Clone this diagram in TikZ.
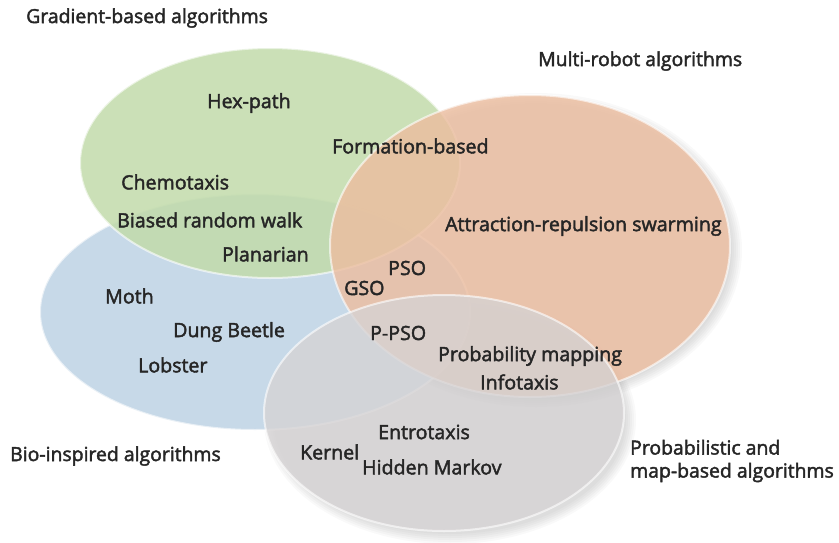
\documentclass[tikz,border=0pt]{standalone}
\usepackage{fontspec}
\setmainfont{Open Sans}[FakeBold=2.2]
\definecolor{blueset}{HTML}{C7D9E8}
\definecolor{greenset}{HTML}{C2DBAA}
\definecolor{orangeset}{HTML}{EDBD9F}
\definecolor{greyset}{HTML}{D6D3D4}
\definecolor{inktext}{HTML}{262626}
\tikzset{
  setshape/.style={draw=white, draw opacity=0.6, line width=2pt},
  item/.style={font=\fontsize{19.6}{23}\selectfont, text=inktext, inner sep=0pt},
  group/.style={font=\fontsize{19.4}{23}\selectfont, text=inktext, inner sep=0pt, align=left},
}
% soft shadow: a stack of faint ellipses growing outward
\newcommand{\softshadow}[4]{%
  \foreach \k in {0,2,...,10}{%
    \fill[black, opacity=0.025] (#1,#2) ellipse [x radius=#3-4+\k, y radius=#4-4+\k];
  }%
}
\begin{document}
\begin{tikzpicture}[x=1pt, y=-1pt]
  \useasboundingbox (0,0) rectangle (839,542);
  % the four algorithm families
  \softshadow{450}{420}{180}{118}
  \softshadow{536}{250}{200}{151}
  \fill[blueset, setshape] (255,312) ellipse [x radius=215, y radius=118];
  \fill[greenset, fill opacity=0.85, setshape] (270,163) ellipse [x radius=190, y radius=115];
  \fill[orangeset, fill opacity=0.8, setshape] (530,246) ellipse [x radius=200, y radius=151];
  \fill[greyset, fill opacity=0.78, setshape] (444,413) ellipse [x radius=180, y radius=118];

  % family names
  \node[group, anchor=west] (grad) at (26,18) {Gradient-based algorithms};
  \node[group, anchor=west] (multi) at (538,61) {Multi-robot algorithms};
  \node[group, anchor=west] (bio) at (10,456) {Bio-inspired algorithms};
  \node[group, anchor=west] (prob) at (630,461) {Probabilistic and\\map-based algorithms};

  % algorithms
  \node[item, anchor=west] (hex) at (207,103) {Hex-path};
  \node[item, anchor=west] (form) at (332,146) {Formation-based};
  \node[item, anchor=west] (chemo) at (121,182) {Chemotaxis};
  \node[item, anchor=west] (brw) at (117,220) {Biased random walk};
  \node[item, anchor=west] (plan) at (222,254) {Planarian};
  \node[item, anchor=west] (attr) at (445,226) {Attraction-repulsion swarming};
  \node[item, anchor=west] (pso) at (388,268) {PSO};
  \node[item, anchor=west] (gso) at (344,288) {GSO};
  \node[item, anchor=west] (moth) at (105,296) {Moth};
  \node[item, anchor=west] (dung) at (173,332) {Dung Beetle};
  \node[item, anchor=west] (lob) at (138,365) {Lobster};
  \node[item, anchor=west] (ppso) at (370,333) {P-PSO};
  \node[item, anchor=west] (pmap) at (438,356) {Probability mapping};
  \node[item, anchor=west] (info) at (480,382) {Infotaxis};
  \node[item, anchor=west] (entro) at (378,432) {Entrotaxis};
  \node[item, anchor=west] (kern) at (300,452) {Kernel};
  \node[item, anchor=west] (hmm) at (362,467) {Hidden Markov};
\end{tikzpicture}
\end{document}
